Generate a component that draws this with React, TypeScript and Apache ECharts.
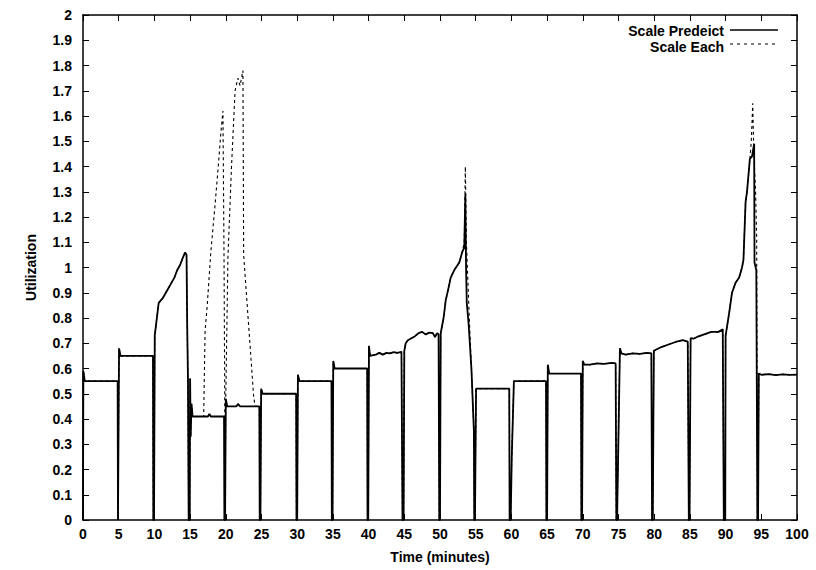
import React, { useEffect, useRef } from "react";
import * as echarts from "echarts";

type Pt = [number, number];

const FONT = "'Liberation Sans', Arial, Helvetica, sans-serif";

const SERIES_PREDICT = "Scale Predeict";
const SERIES_EACH = "Scale Each";
const X_TITLE = "Time (minutes)";
const Y_TITLE = "Utilization";

// axis ranges (minutes / utilization)
const X_MIN = 0;
const X_MAX = 100;
const X_STEP = 5;
const Y_MIN = 0;
const Y_MAX = 2;
const Y_STEP = 0.1;

// 0 - 15 min: both policies behave the same
const common0to15: Pt[] = [
  [0, 0], [0.05, 0.59], [0.25, 0.55], [4.85, 0.55], [4.9, 0], [4.97, 0],
  [5.05, 0.68], [5.25, 0.65], [9.8, 0.65], [9.85, 0], [9.95, 0],
  [10.05, 0.73], [10.3, 0.79], [10.6, 0.86], [10.9, 0.87], [11.2, 0.88],
  [11.6, 0.9], [12.0, 0.92], [12.4, 0.94], [12.8, 0.96], [13.2, 0.99],
  [13.6, 1.01], [14.0, 1.04], [14.3, 1.06], [14.5, 1.05], [14.6, 0.76],
  [14.7, 0.56], [14.8, 0],
];

// 15 - 25 min
const predict15to25: Pt[] = [
  [14.95, 0], [15.0, 0.56], [15.08, 0.33], [15.2, 0.46], [15.35, 0.41],
  [17.5, 0.41], [17.7, 0.42], [17.9, 0.41], [19.75, 0.41], [19.8, 0],
  [19.9, 0], [20.0, 0.48], [20.2, 0.45], [21.5, 0.45], [21.7, 0.46],
  [22.0, 0.45], [24.7, 0.45], [24.75, 0],
];
const each15to25: Pt[] = [
  [14.95, 0], [15.0, 0.56], [15.08, 0.33], [15.2, 0.46], [15.35, 0.41],
  [16.9, 0.41], [17.1, 0.75], [17.4, 0.85], [17.9, 1.06], [18.5, 1.25],
  [19.0, 1.42], [19.3, 1.53], [19.6, 1.62], [19.75, 1.05], [19.85, 0.49],
  [19.9, 0], [19.95, 0], [20.0, 0.49], [20.3, 1.04], [20.8, 1.4],
  [21.3, 1.7], [21.7, 1.75], [22.0, 1.72], [22.4, 1.78], [22.5, 1.05],
  [23.9, 0.49], [24.1, 0.45], [24.7, 0.45], [24.75, 0],
];

// 25 - 50 min
const common25to50: Pt[] = [
  [24.85, 0], [24.95, 0.52], [25.15, 0.5], [29.85, 0.5], [29.9, 0], [30.0, 0],
  [30.1, 0.575], [30.3, 0.55], [34.8, 0.55], [34.85, 0], [34.95, 0],
  [35.05, 0.63], [35.25, 0.6], [39.8, 0.6], [39.85, 0], [39.95, 0],
  [40.05, 0.69], [40.2, 0.65], [41.0, 0.655], [41.5, 0.662], [42.0, 0.655],
  [42.5, 0.662], [43.0, 0.66], [43.5, 0.665], [44.0, 0.662], [44.6, 0.666],
  [44.75, 0], [44.9, 0], [45.0, 0.67], [45.2, 0.7], [45.5, 0.712],
  [46.0, 0.72], [46.5, 0.728], [47.0, 0.74], [47.5, 0.745], [48.0, 0.735],
  [48.5, 0.742], [49.0, 0.74], [49.3, 0.725], [49.6, 0.74], [49.8, 0.735],
  [49.9, 0],
];

// 50 - 55 min
const predict50to55: Pt[] = [
  [50.0, 0], [50.1, 0.74], [50.5, 0.8], [50.8, 0.87], [51.2, 0.92],
  [51.5, 0.96], [52.0, 0.99], [52.7, 1.02], [53.1, 1.06], [53.4, 1.08],
  [53.55, 1.29], [53.65, 1.0], [53.75, 0.86], [54.0, 0.78], [54.4, 0.6],
  [54.75, 0.35], [54.8, 0],
];
const each50to55: Pt[] = [
  [50.0, 0], [50.1, 0.74], [50.5, 0.8], [50.8, 0.87], [51.2, 0.92],
  [51.5, 0.96], [52.0, 0.99], [52.7, 1.02], [53.1, 1.06], [53.4, 1.1],
  [53.55, 1.4], [53.7, 1.1], [53.9, 0.95], [54.1, 0.8], [54.4, 0.6],
  [54.75, 0.35], [54.8, 0],
];

// 55 - 90 min
const common55to90: Pt[] = [
  [54.9, 0], [55.05, 0.52], [59.7, 0.52], [59.75, 0], [59.9, 0],
  [60.05, 0.25], [60.35, 0.55], [64.85, 0.55], [64.9, 0], [65.0, 0],
  [65.1, 0.615], [65.3, 0.58], [69.75, 0.58], [69.8, 0], [69.9, 0],
  [70.0, 0.63], [70.2, 0.615], [71.0, 0.615], [72.0, 0.62], [73.0, 0.618],
  [74.0, 0.622], [74.6, 0.62], [74.7, 0], [74.8, 0], [75.2, 0.68],
  [75.4, 0.66], [76.0, 0.655], [77.0, 0.66], [78.0, 0.658], [79.0, 0.662],
  [79.6, 0.66], [79.7, 0], [79.8, 0], [79.95, 0.67], [80.3, 0.675],
  [81.0, 0.685], [82.0, 0.695], [83.0, 0.705], [84.0, 0.712], [84.7, 0.706],
  [84.85, 0], [84.95, 0], [85.1, 0.72], [85.5, 0.718], [86.0, 0.725],
  [87.0, 0.735], [88.0, 0.745], [89.0, 0.745], [89.6, 0.755], [89.75, 0],
];

// 90 - 95 min
const predict90to95: Pt[] = [
  [89.85, 0], [89.95, 0], [90.0, 0.73], [90.5, 0.82], [90.9, 0.9],
  [91.4, 0.94], [91.9, 0.96], [92.3, 1.0], [92.5, 1.03], [92.8, 1.26],
  [93.0, 1.3], [93.4, 1.43], [93.7, 1.44], [94.0, 1.49], [94.05, 1.02],
  [94.3, 0.99], [94.45, 0],
];
const each90to95: Pt[] = [
  [89.85, 0], [89.95, 0], [90.0, 0.73], [90.5, 0.82], [90.9, 0.9],
  [91.4, 0.94], [91.9, 0.96], [92.3, 1.0], [92.5, 1.03], [92.8, 1.26],
  [93.0, 1.3], [93.4, 1.43], [93.6, 1.5], [93.8, 1.65], [93.95, 1.45],
  [94.2, 1.3], [94.35, 1.12], [94.45, 0],
];

// 95 - 100 min
const common95to100: Pt[] = [
  [94.55, 0], [94.65, 0.58], [95.0, 0.575], [96.0, 0.578], [97.0, 0.574],
  [98.0, 0.577], [99.0, 0.575], [100.0, 0.576],
];

const scalePredict: Pt[] = [
  ...common0to15, ...predict15to25, ...common25to50, ...predict50to55,
  ...common55to90, ...predict90to95, ...common95to100,
];
const scaleEach: Pt[] = [
  ...common0to15, ...each15to25, ...common25to50, ...each50to55,
  ...common55to90, ...each90to95, ...common95to100,
];

const GRID = { left: 83, right: 19, top: 15, bottom: 50 };
const LABEL_SIZE = 14;
const TITLE_SIZE = 14;

function axisCommon(showLabels: boolean) {
  return {
    axisLine: { show: true, onZero: false, lineStyle: { color: "#000", width: 1.5 } },
    axisTick: { show: true, inside: true, length: 6, lineStyle: { color: "#000", width: 1 } },
    axisLabel: {
      show: showLabels,
      color: "#000",
      fontFamily: FONT,
      fontWeight: "bold" as const,
      fontSize: LABEL_SIZE,
    },
    splitLine: { show: false },
  };
}

export default function App() {
  const ref = useRef<HTMLDivElement>(null);

  useEffect(() => {
    if (!ref.current) return;
    const chart = echarts.init(ref.current, undefined, { renderer: "svg" });

    const legendRight = 724;
    const lineX1 = 730;
    const lineX2 = 778;
    const titleStyle = {
      color: "#000",
      fontFamily: FONT,
      fontWeight: "bold",
      fontSize: TITLE_SIZE,
    };

    chart.setOption({
      animation: false,
      backgroundColor: "#fff",
      textStyle: { fontFamily: FONT },
      grid: { ...GRID, containLabel: false },
      xAxis: [
        {
          type: "value",
          min: X_MIN,
          max: X_MAX,
          interval: X_STEP,
          position: "bottom",
          name: X_TITLE,
          nameLocation: "middle",
          nameGap: 30,
          nameTextStyle: titleStyle,
          ...axisCommon(true),
          axisLabel: { ...axisCommon(true).axisLabel, margin: 7 },
        },
        {
          type: "value",
          min: X_MIN,
          max: X_MAX,
          interval: X_STEP,
          position: "top",
          ...axisCommon(false),
        },
      ],
      yAxis: [
        {
          type: "value",
          min: Y_MIN,
          max: Y_MAX,
          interval: Y_STEP,
          position: "left",
          name: Y_TITLE,
          nameLocation: "middle",
          nameRotate: 90,
          nameGap: 45,
          nameTextStyle: titleStyle,
          ...axisCommon(true),
          axisLabel: { ...axisCommon(true).axisLabel, margin: 11 },
        },
        {
          type: "value",
          min: Y_MIN,
          max: Y_MAX,
          interval: Y_STEP,
          position: "right",
          ...axisCommon(false),
        },
      ],
      series: [
        {
          name: SERIES_EACH,
          type: "line",
          xAxisIndex: 0,
          yAxisIndex: 0,
          data: scaleEach,
          symbol: "none",
          lineStyle: { color: "#000", width: 1.1, type: [3, 3] },
          z: 2,
        },
        {
          name: SERIES_PREDICT,
          type: "line",
          xAxisIndex: 0,
          yAxisIndex: 0,
          data: scalePredict,
          symbol: "none",
          lineStyle: { color: "#000", width: 1.8 },
          z: 3,
        },
      ],
      graphic: [
        {
          type: "text",
          x: legendRight,
          y: 31,
          style: {
            text: SERIES_PREDICT,
            textAlign: "right",
            textVerticalAlign: "middle",
            align: "right",
            verticalAlign: "middle",
            font: `bold 14px ${FONT}`,
            fill: "#000",
          },
        },
        {
          type: "line",
          shape: { x1: lineX1, y1: 30, x2: lineX2, y2: 30 },
          style: { stroke: "#000", lineWidth: 1.6 },
        },
        {
          type: "text",
          x: legendRight,
          y: 47,
          style: {
            text: SERIES_EACH,
            textAlign: "right",
            textVerticalAlign: "middle",
            align: "right",
            verticalAlign: "middle",
            font: `bold 14px ${FONT}`,
            fill: "#000",
          },
        },
        {
          type: "line",
          shape: { x1: lineX1, y1: 44, x2: lineX2, y2: 44 },
          style: { stroke: "#000", lineWidth: 1, lineDash: [3, 4] },
        },
      ],
    });

    return () => chart.dispose();
  }, []);

  return (
    <div
      ref={ref}
      style={{ position: "absolute", left: 0, top: 0, width: 816, height: 570, background: "#fff" }}
    />
  );
}
